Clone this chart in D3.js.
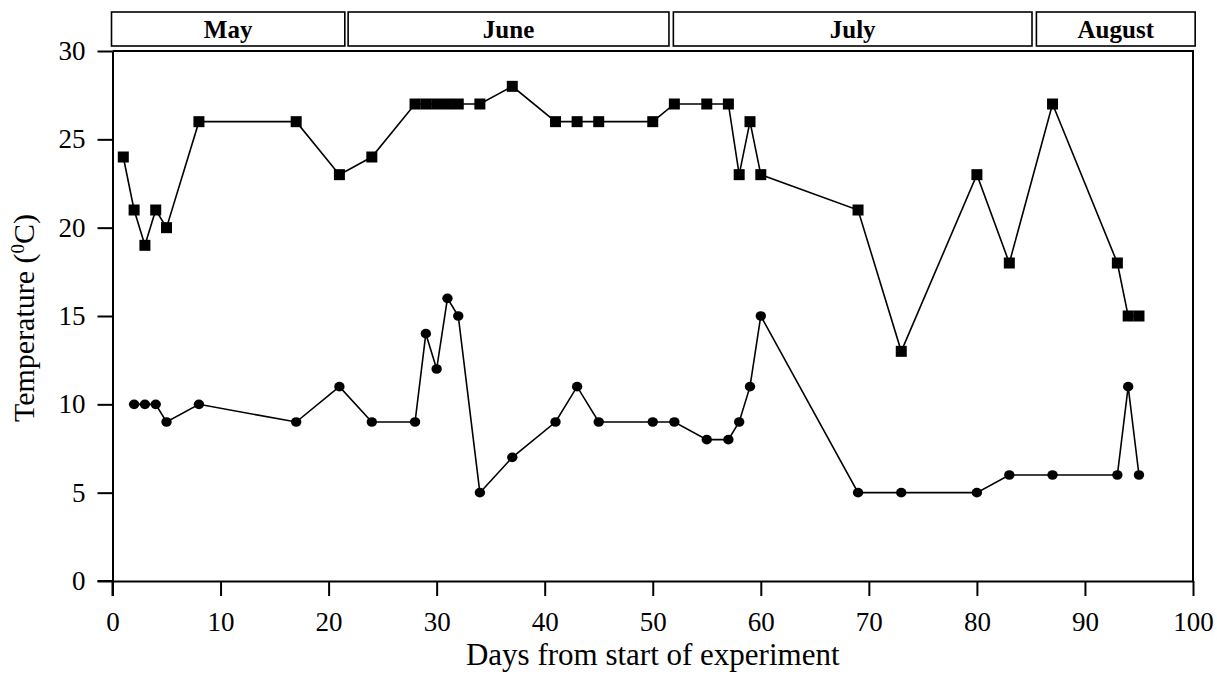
<!DOCTYPE html>
<html><head><meta charset="utf-8">
<script src="https://cdn.jsdelivr.net/npm/d3@7"></script>
<style>body{margin:0;background:#fff;} text{font-family:"Liberation Serif","Times New Roman",serif;}</style>
</head><body>
<svg id="c" width="1217" height="690"></svg>
<script>
const days = [1,2,3,4,5,8,17,21,24,28,29,30,31,32,34,37,41,43,45,50,52,55,57,58,59,60,69,73,80,83,87,93,94,95];
const highTemp = [24,21,19,21,20,26,26,23,24,27,27,27,27,27,27,28,26,26,26,26,27,27,27,23,26,23,21,13,23,18,27,18,15,15];
const lowDays = [2,3,4,5,8,17,21,24,28,29,30,31,32,34,37,41,43,45,50,52,55,57,58,59,60,69,73,80,83,87,93,94,95];
const lowTemp = [10,10,10,9,10,9,11,9,9,14,12,16,15,5,7,9,11,9,9,9,8,8,9,11,15,5,5,5,6,6,6,11,6];
const months = ["May","June","July","August"];
const monthStart = [0,21.9,52,85.6];
const monthEnd = [21.5,51.5,85.1,100.2];
const xTicks = [0,10,20,30,40,50,60,70,80,90,100];
const yTicks = [0,5,10,15,20,25,30];

const svg = d3.select("#c");
const x = d3.scaleLinear().domain([0,100]).range([112.5,1193]);
const y = d3.scaleLinear().domain([0,30]).range([581,51]);

// month boxes
const mg = svg.append("g");
months.forEach((m,i)=>{
  const x0 = x(monthStart[i]) - 1, x1 = x(monthEnd[i]);
  mg.append("rect").attr("x",x0).attr("y",12).attr("width",x1-x0).attr("height",34)
    .attr("fill","none").attr("stroke","#000").attr("stroke-width",1.6);
  mg.append("text").attr("x",(x0+x1)/2).attr("y",37.5).attr("text-anchor","middle")
    .attr("font-size",25).attr("font-weight","bold").text(m);
});

// frame top/right
svg.append("path").attr("d",`M${x(0)},${y(30)}H${x(100)}V${y(0)}`).attr("fill","none").attr("stroke","#000").attr("stroke-width",2);

// axes
const xa = svg.append("g").attr("transform",`translate(0,${y(0)})`)
  .call(d3.axisBottom(x).tickValues(xTicks).tickSize(15).tickSizeOuter(0).tickPadding(16));
const ya = svg.append("g").attr("transform",`translate(${x(0)},0)`)
  .call(d3.axisLeft(y).tickValues(yTicks).tickSize(15).tickSizeOuter(0).tickPadding(12));
[xa,ya].forEach(a=>{
  a.selectAll("path,line").attr("stroke","#000").attr("stroke-width",2);
  a.selectAll("text").attr("font-size",27).attr("fill","#000").attr("font-family","Liberation Serif");
});
// extend axes to cross
svg.append("line").attr("x1",x(0)-15).attr("x2",x(0)).attr("y1",y(0)).attr("y2",y(0)).attr("stroke","#000").attr("stroke-width",2);
svg.append("line").attr("x1",x(0)).attr("x2",x(0)).attr("y1",y(0)).attr("y2",y(0)+15).attr("stroke","#000").attr("stroke-width",2);

// lines
const hi = days.map((d,i)=>[d,highTemp[i]]);
const lo = lowDays.map((d,i)=>[d,lowTemp[i]]);
const line = d3.line().x(d=>x(d[0])).y(d=>y(d[1]));
svg.append("path").datum(hi).attr("d",line).attr("fill","none").attr("stroke","#000").attr("stroke-width",1.6);
svg.append("path").datum(lo).attr("d",line).attr("fill","none").attr("stroke","#000").attr("stroke-width",1.6);
const s = 11;
svg.append("g").selectAll("rect").data(hi).join("rect")
  .attr("x",d=>x(d[0])-s/2).attr("y",d=>y(d[1])-s/2).attr("width",s).attr("height",s).attr("fill","#000");
svg.append("g").selectAll("ellipse").data(lo).join("ellipse")
  .attr("cx",d=>x(d[0])).attr("cy",d=>y(d[1])).attr("rx",5.2).attr("ry",4.8).attr("fill","#000");

// titles
svg.append("text").attr("x",(x(0)+x(100))/2).attr("y",665).attr("text-anchor","middle").attr("font-size",31).text("Days from start of experiment");
const yt = svg.append("text").attr("transform",`translate(34,318) rotate(-90)`).attr("text-anchor","middle").attr("font-size",30);
yt.append("tspan").text("Temperature (");
yt.append("tspan").attr("baseline-shift","super").attr("font-size",19).text("0");
yt.append("tspan").text("C)");
</script>
</body></html>
